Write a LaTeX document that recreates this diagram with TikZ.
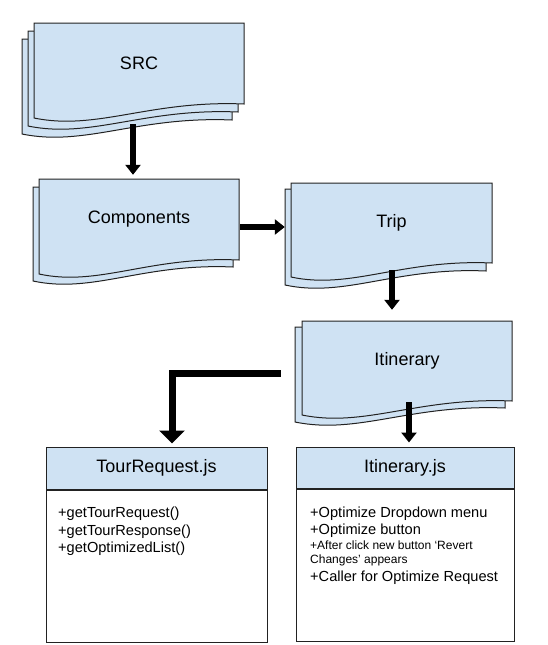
\documentclass[tikz,border=0pt]{standalone}
\usepackage{fontspec}
\setmainfont{Liberation Sans}
\usetikzlibrary{arrows.meta,calc}
\definecolor{docfill}{HTML}{CFE2F3}
\definecolor{edgecol}{HTML}{222222}
\tikzset{
  sheet/.style={draw=edgecol, fill=docfill, line width=1pt},
  docbox/.style={inner sep=0pt, font=\fontsize{18}{22}\selectfont, text=black},
  umlhead/.style={draw=edgecol, fill=docfill, line width=1pt, inner sep=0pt, font=\fontsize{18}{22}\selectfont},
  umlbody/.style={draw=edgecol, fill=white, line width=1pt, inner sep=0pt},
  bodytxt/.style={anchor=base west, inner sep=0pt, font=\fontsize{14.6}{17}\selectfont},
  smalltxt/.style={anchor=base west, inner sep=0pt, font=\fontsize{12}{14}\selectfont},
  arr/.style={line width=6pt, black, -{Triangle[length=10pt,width=15pt]}},
  bigarr/.style={line width=7pt, black, -{Triangle[length=13pt,width=25pt]}},
}
\newcommand\docsheet[4]{% left, top, right, bottom-right
  \draw[sheet] (#1,#2) -- (#3,#2) -- (#3,#4)
    .. controls ({#1+0.55*(#3-#1)},{#4-4}) and ({#1+0.3*(#3-#1)},{#4+27}) .. (#1,{#4+14}) -- cycle;}
\begin{document}
\begin{tikzpicture}[x=1pt,y=-1pt]
\useasboundingbox (0,0) rectangle (547,645);
% SRC (three sheets)
\docsheet{22}{39}{232}{120}
\docsheet{28}{31}{238}{112}
\docsheet{34}{23}{244}{104}
\node[docbox, minimum width=210pt, minimum height=81pt] (src) at (139,63.5) {SRC};
% Components
\docsheet{33}{187}{233}{267}
\docsheet{39}{179}{239}{260}
\node[docbox, minimum width=200pt, minimum height=81pt] (comp) at (139,219.5) {Components};
% Trip
\docsheet{285}{189}{486}{271}
\docsheet{291}{183}{492}{263}
\node[docbox, minimum width=201pt, minimum height=80pt] (trip) at (391.5,223) {Trip};
% Itinerary
\docsheet{295}{327}{505}{408}
\docsheet{302}{321}{512}{401}
\node[docbox, minimum width=210pt, minimum height=80pt] (itin) at (407,361) {Itinerary};
% UML boxes
\node[umlhead, minimum width=221pt, minimum height=42pt] (tour) at (156.5,468) {TourRequest.js};
\node[umlbody, minimum width=221pt, minimum height=152pt, anchor=north] (tourbody) at (tour.south) {};
\node[umlhead, minimum width=218pt, minimum height=41pt] (itinjs) at (405,467.5) {Itinerary.js};
\node[umlbody, minimum width=218pt, minimum height=152pt, anchor=north] (itinjsbody) at (itinjs.south) {};
% body texts
\node[bodytxt] (t1) at (58,517) {+getTourRequest()};
\node[bodytxt] (t2) at (58,535) {+getTourResponse()};
\node[bodytxt] (t3) at (58,552.5) {+getOptimizedList()};
\node[bodytxt] (i1) at (310,517) {+Optimize Dropdown menu};
\node[bodytxt] (i2) at (310,534) {+Optimize button};
\node[smalltxt] (i3) at (310,549) {+After click new button ‘Revert};
\node[smalltxt] (i4) at (310,563) {Changes’ appears};
\node[bodytxt] (i5) at (310,581) {+Caller for Optimize Request};
% connectors
\draw[arr] ($(src.south)+(-6,20)$) -- ($(comp.north)+(-6,-4)$);
\draw[arr] ($(comp.east)+(1,7.5)$) -- ($(trip.west)+(-6,4)$);
\draw[arr] ($(trip.south)+(0.5,7)$) -- ($(itin.north)+(-15,-11)$);
\draw[bigarr] ($(itin.west)+(-21,12)$) -| ($(tour.north)+(15.5,-3)$);
\draw[arr] ($(itin.south)+(2,1)$) -- ($(itinjs.north)+(4,-4)$);
\end{tikzpicture}
\end{document}
